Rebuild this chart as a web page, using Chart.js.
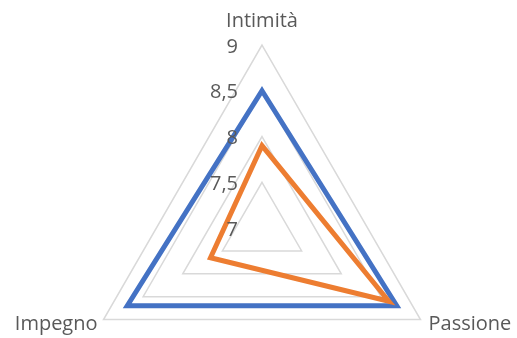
<!DOCTYPE html>
<html>
<head>
<meta charset="utf-8">
<script src="https://cdn.jsdelivr.net/npm/chart.js@4/dist/chart.umd.min.js"></script>
<style>
	body { margin: 0; background: #fff; }
	#wrap { width: 517px; height: 338px; }
</style>
</head>
<body>
<div id="wrap"><canvas id="mycanvas" width="517" height="338"></canvas></div>
<script>
var categories = ['Intimità', 'Passione', 'Impegno'];
var serie1 = [8.5, 8.7, 8.7];
var serie2 = [7.9, 8.6, 7.65];
var tickValues = [7, 7.5, 8, 8.5, 9];
var tickLabels = ['7', '7,5', '8', '8,5', '9'];

var textColor = '#595959';
var font = '20px "Open Sans"';

// draws point labels and tick labels left of the vertical axis, like excel
var labelsPlugin = {
	id: 'excelLabels',
	afterDatasetsDraw: function(chart) {
		var scale = chart.scales.r;
		var ctx = chart.ctx;
		ctx.save();
		ctx.font = font;
		ctx.fillStyle = textColor;

		// tick labels
		ctx.textAlign = 'right';
		ctx.textBaseline = 'middle';
		scale.ticks.forEach(function(t) {
			var d = scale.getDistanceFromCenterForValue(t.value);
			ctx.fillText(t.label, scale.xCenter - 24, scale.yCenter - d + 2);
		});

		// point labels
		ctx.textBaseline = 'alphabetic';
		for (var i = 0; i < categories.length; i++) {
			var p = scale.getPointPosition(i, scale.drawingArea);
			if (i == 0) {
				ctx.textAlign = 'center';
				ctx.fillText(categories[i], p.x, p.y - 18);
			} else if (p.x > scale.xCenter) {
				ctx.textAlign = 'left';
				ctx.fillText(categories[i], p.x + 8, p.y + 10);
			} else {
				ctx.textAlign = 'right';
				ctx.fillText(categories[i], p.x - 6, p.y + 10);
			}
		}
		ctx.restore();
	}
};

var ctx = document.getElementById('mycanvas');

var radarChart = new Chart(ctx, {
	type: 'radar',
	data: {
		labels: categories,
		datasets: [
			{
				label: 'Serie1',
				data: serie1,
				borderColor: '#4472C4',
				borderWidth: 5,
				borderJoinStyle: 'miter',
				fill: false,
				pointRadius: 0,
				order: 2
			},
			{
				label: 'Serie2',
				data: serie2,
				borderColor: '#ED7D31',
				borderWidth: 5,
				borderJoinStyle: 'miter',
				fill: false,
				pointRadius: 0,
				order: 1
			}
		]
	},
	options: {
		responsive: false,
		animation: false,
		plugins: {
			legend: { display: false },
			tooltip: { enabled: false }
		},
		scales: {
			r: {
				min: 7,
				max: 9,
				ticks: {
					stepSize: 0.5,
					display: false,
					callback: function(v) {
						var i = tickValues.indexOf(v);
						return i >= 0 ? tickLabels[i] : '';
					}
				},
				grid: { color: '#D9D9D9', lineWidth: 1.5 },
				angleLines: { display: false },
				pointLabels: { display: false },
				afterFit: function(scale) {
					scale.xCenter = 262;
					scale.yCenter = 228;
					scale.drawingArea = 183;
				}
			}
		}
	},
	plugins: [labelsPlugin]
});
</script>
</body>
</html>
